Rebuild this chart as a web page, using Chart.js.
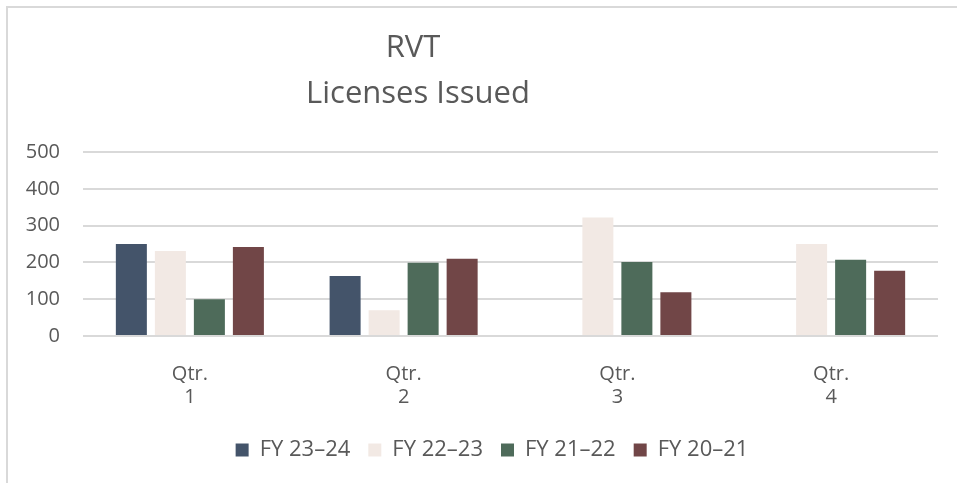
<!DOCTYPE html>
<html>
<head>
<meta charset="utf-8">
<script src="https://cdn.jsdelivr.net/npm/chart.js@4.4.1/dist/chart.umd.min.js"></script>
<style>
  body { margin: 0; background: #fff; }
  #frame { position: absolute; left: 6px; top: 6px; width: 1000px; height: 600px;
           border-top: 2px solid #d9d9d9; border-left: 2px solid #d9d9d9; }
  #rvtChart { position: absolute; left: 0; top: 0; }
</style>
</head>
<body>
<div id="frame"></div>
<canvas id="rvtChart" width="957" height="483"></canvas>
<script>
// Data
const quarters = [["Qtr.", "1"], ["Qtr.", "2"], ["Qtr.", "3"], ["Qtr.", "4"]];
const fy2324 = [250, 163, null, null];
const fy2223 = [231, 70, 322, 250];
const fy2122 = [100, 199, 201, 207];
const fy2021 = [242, 210, 119, 177];
const yTicks = [0, 100, 200, 300, 400, 500];
const titleLines = ["RVT", "Licenses Issued"];

const FONT = "'Open Sans', sans-serif";
const TEXT = "#595959";

// Title is off-centre in the original, so draw it ourselves.
// The legend also sits a bit right of the canvas centre, so nudge it.
const layoutPlugin = {
    id: 'offsetTitle',
    afterLayout(chart) {
        chart.legend.left += 23;
        chart.legend.right += 23;
    },
    afterDraw(chart) {
        const c = chart.ctx;
        c.save();
        c.fillStyle = TEXT;
        c.font = "31px " + FONT;
        c.textAlign = 'center';
        c.textBaseline = 'middle';
        c.fillText(titleLines[0], 413, 48);
        c.fillText(titleLines[1], 418, 94);
        c.restore();
    }
};

const ctx = document.getElementById('rvtChart').getContext('2d');

new Chart(ctx, {
    type: 'bar',
    data: {
        labels: quarters,
        datasets: [
            { label: "FY 23\u201324", data: fy2324, backgroundColor: "#44546a" },
            { label: "FY 22\u201323", data: fy2223, backgroundColor: "#f2e9e4" },
            { label: "FY 21\u201322", data: fy2122, backgroundColor: "#4e6b5a" },
            { label: "FY 20\u201321", data: fy2021, backgroundColor: "#714647" }
        ]
    },
    plugins: [layoutPlugin],
    options: {
        responsive: false,
        animation: false,
        categoryPercentage: 0.73,
        barPercentage: 0.795,
        layout: { padding: { left: 0, right: 19, top: 152, bottom: 12 } },
        plugins: {
            title: { display: false },
            tooltip: { enabled: false },
            legend: {
                position: 'bottom',
                labels: {
                    font: { family: FONT, size: 22 },
                    color: TEXT,
                    boxWidth: 13,
                    boxHeight: 13,
                    padding: 18
                }
            }
        },
        scales: {
            x: {
                grid: { display: false },
                border: { display: false },
                ticks: {
                    font: { family: FONT, size: 20, lineHeight: 1.15 },
                    color: TEXT,
                    padding: 19,
                    maxRotation: 0
                },
                afterFit(scale) { scale.height = 85; }
            },
            y: {
                min: 0,
                max: 500,
                afterBuildTicks(scale) { scale.ticks = yTicks.map(v => ({ value: v })); },
                grid: { color: "#d9d9d9", lineWidth: 2, drawTicks: false },
                border: { display: false },
                ticks: {
                    font: { family: FONT, size: 20 },
                    color: TEXT,
                    padding: 23
                },
                afterFit(scale) { scale.width = 83; }
            }
        }
    }
});
</script>
</body>
</html>
